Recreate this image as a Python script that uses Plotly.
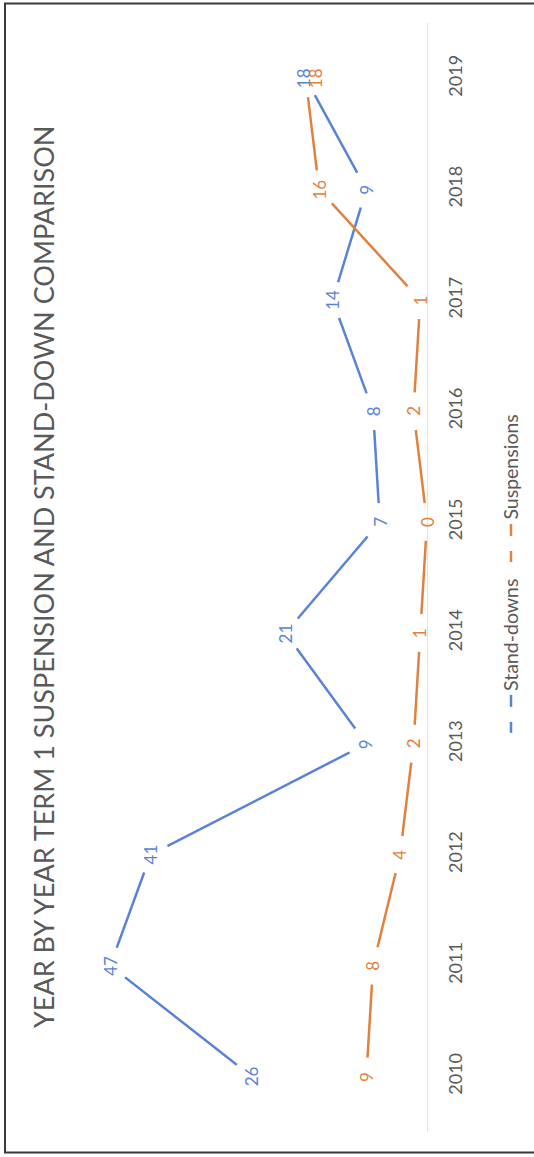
import plotly.graph_objects as go

years = ["2010", "2011", "2012", "2013", "2014", "2015", "2016", "2017", "2018", "2019"]
stand_downs = [26, 47, 41, 9, 21, 7, 8, 14, 9, 18]
suspensions = [9, 8, 4, 2, 1, 0, 2, 1, 16, 18]
series_names = ["Stand-downs", "Suspensions"]
title_text = "YEAR BY YEAR TERM 1 SUSPENSION AND STAND-DOWN COMPARISON"

BLUE = "#5b83d3"
ORANGE = "#e0823f"
FONT = "Lato, 'Open Sans', sans-serif"

W, H = 534, 1157
ML, MR, MT, MB = 90, 107, 22.5, 24.5
PW = W - ML - MR
PH = H - MT - MB


def px_x(px):
    return (px - ML) / PW


def px_y(py):
    return (H - MB - py) / PH


fig = go.Figure()
for name, vals, col in [(series_names[0], stand_downs, BLUE), (series_names[1], suspensions, ORANGE)]:
    fig.add_trace(go.Scatter(
        x=vals, y=years, mode="lines+markers", name=name,
        line=dict(color=col, width=2.5),
        marker=dict(color="white", size=38, line=dict(width=0)),
        hoverinfo="skip", showlegend=False, cliponaxis=False,
    ))

annotations = []
for vals, col in [(stand_downs, BLUE), (suspensions, ORANGE)]:
    for i, v in enumerate(vals):
        xs = 0
        if i == len(vals) - 1:
            xs = 10 if col == ORANGE else -2
        annotations.append(dict(
            x=v, y=i, xref="x", yref="y", text=str(v), showarrow=False,
            textangle=-90, font=dict(family=FONT, size=17, color=col),
            xshift=xs, xanchor="center", yanchor="middle",
        ))

# title
annotations.append(dict(
    x=px_x(43), y=px_y(577), xref="paper", yref="paper", text=title_text,
    showarrow=False, textangle=-90, xanchor="center", yanchor="middle",
    font=dict(family=FONT, size=27, color="#595959"),
))

shapes = []
# legend (rotated, built manually)
legend_items = [(series_names[0], BLUE, 733), (series_names[1], ORANGE, 562)]
for name, col, ystart in legend_items:
    for a, b in [(ystart, ystart - 11), (ystart - 26, ystart - 38)]:
        shapes.append(dict(type="line", xref="paper", yref="paper",
                           x0=px_x(511), x1=px_x(511), y0=px_y(a), y1=px_y(b),
                           line=dict(color=col, width=2.5)))
    annotations.append(dict(
        x=px_x(511), y=px_y(ystart - 40), xref="paper", yref="paper", text=name,
        showarrow=False, textangle=-90, xanchor="center", yanchor="bottom",
        font=dict(family=FONT, size=19.5, color="#595959"),
    ))

# outer chart border
shapes.append(dict(type="rect", xref="paper", yref="paper",
                   x0=px_x(5), x1=px_x(545), y0=px_y(1153), y1=px_y(3),
                   line=dict(color="#3a3a3a", width=2), fillcolor="rgba(0,0,0,0)", layer="below"))

fig.update_layout(
    width=W, height=H,
    margin=dict(l=ML, r=MR, t=MT, b=MB, pad=0),
    paper_bgcolor="white", plot_bgcolor="white",
    showlegend=False,
    xaxis=dict(range=[50, 0], showgrid=False, zeroline=False, showticklabels=False,
               showline=False, ticks=""),
    yaxis=dict(type="category", categoryorder="array", categoryarray=years,
               range=[-0.5, 9.5], side="right", showgrid=False, zeroline=False,
               showline=True, linecolor="#e3e3e3", linewidth=1, ticks="",
               tickangle=-90, tickfont=dict(family=FONT, size=18, color="#595959"),
               ticklabelstandoff=12),
    annotations=annotations,
    shapes=shapes,
)

fig.write_html("out.html")
